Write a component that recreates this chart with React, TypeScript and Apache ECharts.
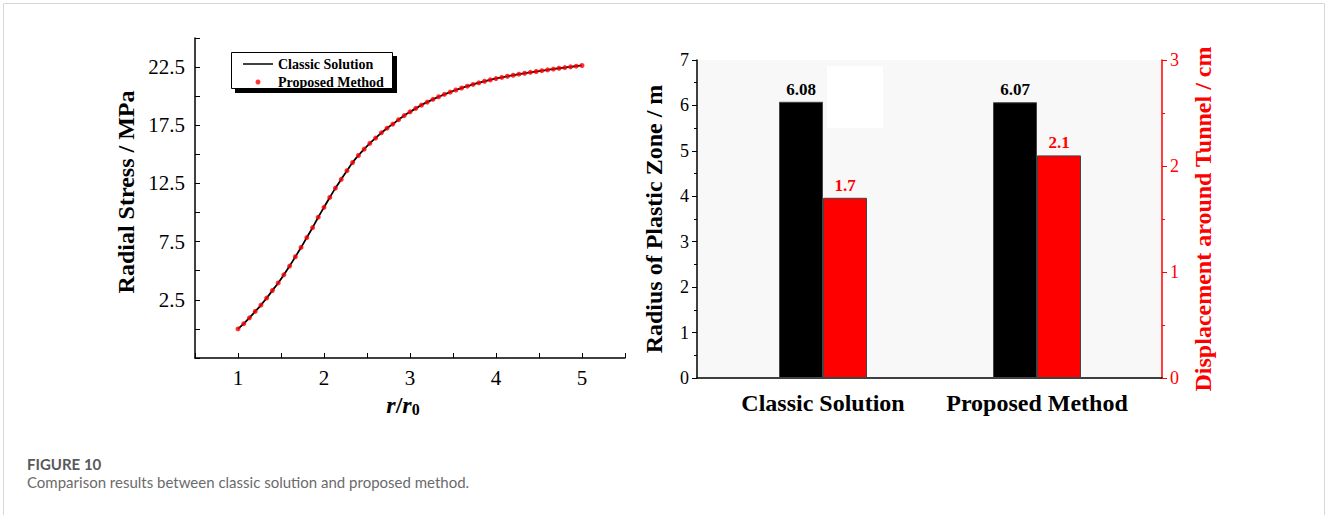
import React, { useEffect, useRef } from "react";
import * as echarts from "echarts";

const rValues = [1, 1.067, 1.133, 1.2, 1.267, 1.333, 1.4, 1.467, 1.533, 1.6, 1.667, 1.733, 1.8, 1.867, 1.933, 2, 2.067, 2.133, 2.2, 2.267, 2.333, 2.4, 2.467, 2.533, 2.6, 2.667, 2.733, 2.8, 2.867, 2.933, 3, 3.067, 3.133, 3.2, 3.267, 3.333, 3.4, 3.467, 3.533, 3.6, 3.667, 3.733, 3.8, 3.867, 3.933, 4, 4.067, 4.133, 4.2, 4.267, 4.333, 4.4, 4.467, 4.533, 4.6, 4.667, 4.733, 4.8, 4.867, 4.933, 5];
const classicStress = [0, 0.45, 0.95, 1.5, 2.05, 2.65, 3.3, 3.95, 4.65, 5.4, 6.2, 7.0, 7.85, 8.7, 9.6, 10.45, 11.3, 12.1, 12.85, 13.6, 14.3, 14.9, 15.45, 15.95, 16.4, 16.85, 17.25, 17.6, 17.98, 18.33, 18.65, 18.95, 19.23, 19.49, 19.73, 19.95, 20.16, 20.35, 20.53, 20.7, 20.86, 21.01, 21.15, 21.28, 21.4, 21.51, 21.61, 21.71, 21.8, 21.89, 21.97, 22.05, 22.12, 22.19, 22.26, 22.33, 22.4, 22.46, 22.52, 22.58, 22.64];
const proposedStress = [0, 0.45, 0.95, 1.5, 2.05, 2.65, 3.3, 3.95, 4.65, 5.4, 6.2, 7.0, 7.85, 8.7, 9.6, 10.45, 11.3, 12.1, 12.85, 13.6, 14.3, 14.9, 15.45, 15.95, 16.4, 16.85, 17.25, 17.6, 17.98, 18.33, 18.65, 18.95, 19.23, 19.49, 19.73, 19.95, 20.16, 20.35, 20.53, 20.7, 20.86, 21.01, 21.15, 21.28, 21.4, 21.51, 21.61, 21.71, 21.8, 21.89, 21.97, 22.05, 22.12, 22.19, 22.26, 22.33, 22.4, 22.46, 22.52, 22.58, 22.64];

const methods = ["Classic Solution", "Proposed Method"];
const plasticRadius = [6.08, 6.07];
const displacement = [1.7, 2.1];

const SERIF = '"Liberation Serif", "Times New Roman", serif';

export default function App() {
  const ref = useRef<HTMLDivElement>(null);
  useEffect(() => {
    document.body.style.margin = "0";
    const chart = echarts.init(ref.current!, null, { renderer: "svg" });
    const lineData = rValues.map((r, i) => [r, classicStress[i]]);
    const dotData = rValues.map((r, i) => [r, proposedStress[i]]);
    const option: any = {
      animation: false,
      backgroundColor: "#ffffff",
      textStyle: { fontFamily: SERIF },
      grid: [
        { left: 195, top: 38, width: 430, height: 320 },
        { left: 697, top: 60, width: 465, height: 318, show: true, backgroundColor: "#f8f8f8", borderWidth: 0 },
        { left: 716, top: 60, width: 428, height: 318 },
      ],
      legend: {
        left: 238,
        top: 52,
        orient: "vertical",
        itemWidth: 30,
        itemHeight: 5,
        itemGap: 4,
        data: [
          { name: "Classic Solution", icon: "path://M0,0 L30,0 L30,1.5 L0,1.5 Z" },
          { name: "Proposed Method", icon: "circle" },
        ],
        textStyle: { fontFamily: SERIF, fontWeight: "bold", fontSize: 14, color: "#000", lineHeight: 14, padding: [0, 0, 0, 0] },
        z: 10,
      },
      xAxis: [
        {
          type: "value",
          gridIndex: 0,
          min: 0.5,
          max: 5.5,
          interval: 0.5,
          name: "{i|r}{n|/}{i|r}{s|0}",
          nameLocation: "middle",
          nameGap: 33,
          nameTextStyle: {
            padding: [0, 14, 0, 0],
            rich: {
              i: { fontFamily: SERIF, fontStyle: "italic", fontWeight: "bold", fontSize: 24, color: "#000" },
              n: { fontFamily: SERIF, fontWeight: "bold", fontSize: 24, color: "#000" },
              s: { fontFamily: SERIF, fontWeight: "bold", fontSize: 16, color: "#000", padding: [10, 0, 0, 0] },
            },
          },
          axisLine: { onZero: false, lineStyle: { color: "#000", width: 1.5 } },
          axisTick: { inside: true, length: 5, lineStyle: { color: "#000" } },
          axisLabel: {
            fontFamily: SERIF,
            fontSize: 21,
            color: "#000",
            margin: 9,
            formatter: (v: number) => (Math.abs(v - Math.round(v)) < 1e-6 ? String(Math.round(v)) : ""),
          },
          splitLine: { show: false },
        },
        {
          type: "value",
          gridIndex: 1,
          min: 0,
          max: 1,
          axisLine: { onZero: false, lineStyle: { color: "#000", width: 1.5 } },
          axisTick: { show: false },
          axisLabel: { show: false },
          splitLine: { show: false },
        },
        {
          type: "category",
          gridIndex: 2,
          data: methods,
          axisLine: { show: false },
          axisTick: { show: false },
          axisLabel: { interval: 0, fontFamily: SERIF, fontWeight: "bold", fontSize: 24, color: "#000", margin: 13 },
        },
      ],
      yAxis: [
        {
          type: "value",
          gridIndex: 0,
          min: -2.5,
          max: 25,
          interval: 2.5,
          name: "Radial Stress / MPa",
          nameLocation: "middle",
          nameGap: 57,
          nameTextStyle: { fontFamily: SERIF, fontWeight: "bold", fontSize: 24, color: "#000", padding: [0, 0, 0, 12] },
          axisLine: { show: true, onZero: false, lineStyle: { color: "#000", width: 1.5 } },
          axisTick: { inside: true, length: 5, lineStyle: { color: "#000" } },
          axisLabel: {
            fontFamily: SERIF,
            fontSize: 21,
            color: "#000",
            margin: 10,
            formatter: (v: number) => (v > 0 && Math.abs(((v - 2.5) % 5)) < 1e-6 ? v.toFixed(1) : ""),
          },
          splitLine: { show: false },
        },
        {
          type: "value",
          gridIndex: 1,
          min: 0,
          max: 7,
          interval: 1,
          name: "Radius of Plastic Zone / m",
          nameLocation: "middle",
          nameGap: 31,
          nameTextStyle: { fontFamily: SERIF, fontWeight: "bold", fontSize: 24, color: "#000" },
          axisLine: { show: true, lineStyle: { color: "#000", width: 1.5 } },
          axisTick: { length: 5, lineStyle: { color: "#000" } },
          minorTick: { show: true, splitNumber: 2, length: 3, lineStyle: { color: "#000" } },
          axisLabel: { fontFamily: SERIF, fontSize: 18, color: "#000", margin: 8 },
          splitLine: { show: false },
          minorSplitLine: { show: false },
        },
        {
          type: "value",
          gridIndex: 1,
          position: "right",
          min: 0,
          max: 3,
          interval: 1,
          name: "Displacement around Tunnel / cm",
          nameLocation: "middle",
          nameGap: 29,
          nameRotate: 90,
          nameTextStyle: { fontFamily: SERIF, fontWeight: "bold", fontSize: 24, color: "#ff0000" },
          axisLine: { show: true, lineStyle: { color: "#ff0000", width: 1.5 } },
          axisTick: { length: 5, lineStyle: { color: "#ff0000" } },
          minorTick: { show: true, splitNumber: 2, length: 3, lineStyle: { color: "#ff0000" } },
          axisLabel: { fontFamily: SERIF, fontSize: 18, color: "#ff0000", margin: 8 },
          splitLine: { show: false },
          minorSplitLine: { show: false },
        },
        { type: "value", gridIndex: 2, min: 0, max: 7, show: false },
        { type: "value", gridIndex: 2, min: 0, max: 3, show: false },
      ],
      series: [
        {
          name: "Classic Solution",
          type: "line",
          xAxisIndex: 0,
          yAxisIndex: 0,
          data: lineData,
          symbol: "none",
          smooth: true,
          lineStyle: { color: "#000", width: 1.8 },
          itemStyle: { color: "#000" },
          z: 2,
        },
        {
          name: "Proposed Method",
          type: "scatter",
          xAxisIndex: 0,
          yAxisIndex: 0,
          data: dotData,
          symbol: "circle",
          symbolSize: 5,
          itemStyle: { color: "#ff0000" },
          z: 3,
        },
        {
          name: "Radius of Plastic Zone",
          type: "bar",
          xAxisIndex: 2,
          yAxisIndex: 3,
          data: plasticRadius,
          barWidth: 44,
          barGap: "0%",
          itemStyle: { color: "#000000", borderColor: "#444", borderWidth: 1 },
          label: { show: true, position: "top", distance: 4, fontFamily: SERIF, fontWeight: "bold", fontSize: 17, color: "#000", formatter: (p: any) => p.value.toFixed(2) },
        },
        {
          name: "Displacement around Tunnel",
          type: "bar",
          xAxisIndex: 2,
          yAxisIndex: 4,
          data: displacement,
          barWidth: 44,
          barGap: "0%",
          itemStyle: { color: "#ff0000", borderColor: "#444", borderWidth: 1 },
          label: { show: true, position: "top", distance: 4, fontFamily: SERIF, fontWeight: "bold", fontSize: 17, color: "#ff0000", formatter: (p: any) => p.value.toFixed(1) },
        },
      ],
      graphic: [
        { type: "rect", z: 0, silent: true, shape: { x: 3.5, y: 3.5, width: 1321, height: 530 }, style: { fill: "none", stroke: "#d6d6d6", lineWidth: 1 } },
        { type: "rect", z: 5, shape: { x: 235, y: 56, width: 162, height: 37 }, style: { fill: "#000" } },
        { type: "rect", z: 6, shape: { x: 231.5, y: 52.5, width: 161, height: 36 }, style: { fill: "#fff", stroke: "#000", lineWidth: 1 } },
        { type: "rect", z: 5, shape: { x: 827, y: 66, width: 56, height: 62 }, style: { fill: "#ffffff" } },
        { type: "text", left: 27, top: 456, style: { text: "FIGURE 10", fontFamily: "Lato, sans-serif", fontWeight: "bold", fontSize: 15, fill: "#595959" } },
        { type: "text", left: 27, top: 474, style: { text: "Comparison results between classic solution and proposed method.", fontFamily: "Lato, sans-serif", fontSize: 15, fill: "#6b6b6b" } },
      ],
    };
    chart.setOption(option);
    return () => chart.dispose();
  }, []);
  return <div ref={ref} style={{ width: 1328, height: 515 }} />;
}
